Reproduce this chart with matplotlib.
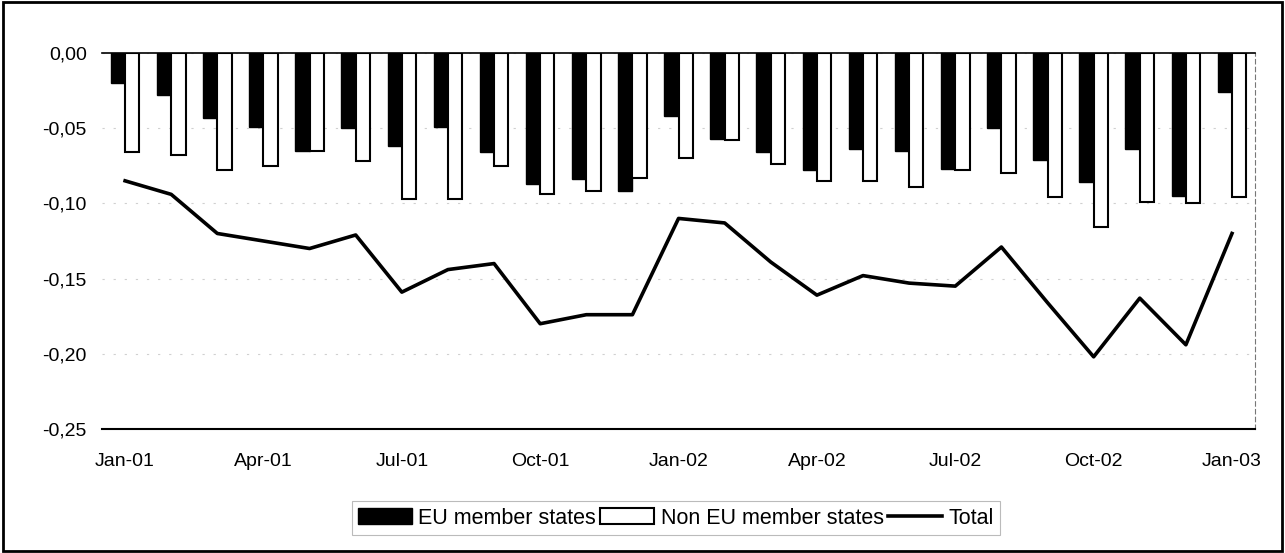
import matplotlib
matplotlib.use("Agg")
import matplotlib.pyplot as plt
from matplotlib.ticker import FuncFormatter, FixedLocator
import numpy as np

months = ["Jan-01", "Feb-01", "Mar-01", "Apr-01", "May-01", "Jun-01", "Jul-01",
          "Aug-01", "Sep-01", "Oct-01", "Nov-01", "Dec-01", "Jan-02", "Feb-02",
          "Mar-02", "Apr-02", "May-02", "Jun-02", "Jul-02", "Aug-02", "Sep-02",
          "Oct-02", "Nov-02", "Dec-02", "Jan-03"]

eu = [-0.020, -0.028, -0.043, -0.049, -0.065, -0.050, -0.062, -0.049, -0.066,
      -0.087, -0.084, -0.092, -0.042, -0.057, -0.066, -0.078, -0.064, -0.065,
      -0.077, -0.050, -0.071, -0.086, -0.064, -0.095, -0.026]

non_eu = [-0.066, -0.068, -0.078, -0.075, -0.065, -0.072, -0.097, -0.097, -0.075,
          -0.094, -0.092, -0.083, -0.070, -0.058, -0.074, -0.085, -0.085, -0.089,
          -0.078, -0.080, -0.096, -0.116, -0.099, -0.100, -0.096]

total = [-0.085, -0.094, -0.120, -0.125, -0.130, -0.121, -0.159, -0.144, -0.140,
         -0.180, -0.174, -0.174, -0.110, -0.113, -0.139, -0.161, -0.148, -0.153,
         -0.155, -0.129, -0.166, -0.202, -0.163, -0.194, -0.120]

plt.rcParams["font.family"] = ["Liberation Sans", "DejaVu Sans"]

fig = plt.figure(figsize=(12.85, 5.53), dpi=100)
ax = fig.add_axes([0.0794, 0.2242, 0.8973, 0.680])

x = np.arange(len(months))
w = 0.31

b1 = ax.bar(x - w / 2, eu, width=w, color="black", edgecolor="black", linewidth=1.0,
            label="EU member states", zorder=3)
b2 = ax.bar(x + w / 2, non_eu, width=w, color="white", edgecolor="black", linewidth=1.5,
            label="Non EU member states", zorder=3)
l1, = ax.plot(x, total, color="black", linewidth=2.6, label="Total", zorder=4)

ax.set_xlim(-0.5, len(months) - 0.5)
ax.set_ylim(-0.25, 0.0)
ax.set_yticks([0.0, -0.05, -0.10, -0.15, -0.20, -0.25])
ax.yaxis.set_major_formatter(FuncFormatter(lambda v, p: f"{v:.2f}".replace(".", ",").replace("-0,00", "0,00")))
ax.xaxis.set_major_locator(FixedLocator(x[::3]))
ax.set_xticklabels(months[::3])
ax.tick_params(axis="both", length=0, labelsize=14)
ax.tick_params(axis="y", pad=11)
ax.tick_params(axis="x", pad=17)

ax.grid(axis="y", color="#d0d0d0", linestyle=(0, (2, 8)), linewidth=0.8, zorder=0)

ax.spines["top"].set_color("black")
ax.spines["top"].set_linewidth(1.2)
ax.spines["bottom"].set_color("black")
ax.spines["bottom"].set_linewidth(1.5)
ax.spines["left"].set_visible(False)
ax.spines["right"].set_color("#777777")
ax.spines["right"].set_linestyle((0, (4, 3)))
ax.spines["right"].set_linewidth(0.8)

leg = fig.legend([b1, b2, l1], ["EU member states", "Non EU member states", "Total"],
                 loc="center", bbox_to_anchor=(0.526, 0.063), ncol=3, fontsize=15.5,
                 frameon=True, fancybox=False, handlelength=2.5, handleheight=0.8,
                 handletextpad=0.3, columnspacing=0.2, borderpad=0.3, borderaxespad=0)
leg.get_frame().set_edgecolor("#aaaaaa")
leg.get_frame().set_linewidth(0.8)

fig.patches.append(plt.Rectangle((0.002, 0.003), 0.996, 0.994, transform=fig.transFigure,
                                 fill=False, edgecolor="black", linewidth=2.0))

fig.savefig("out.png", dpi=100)
